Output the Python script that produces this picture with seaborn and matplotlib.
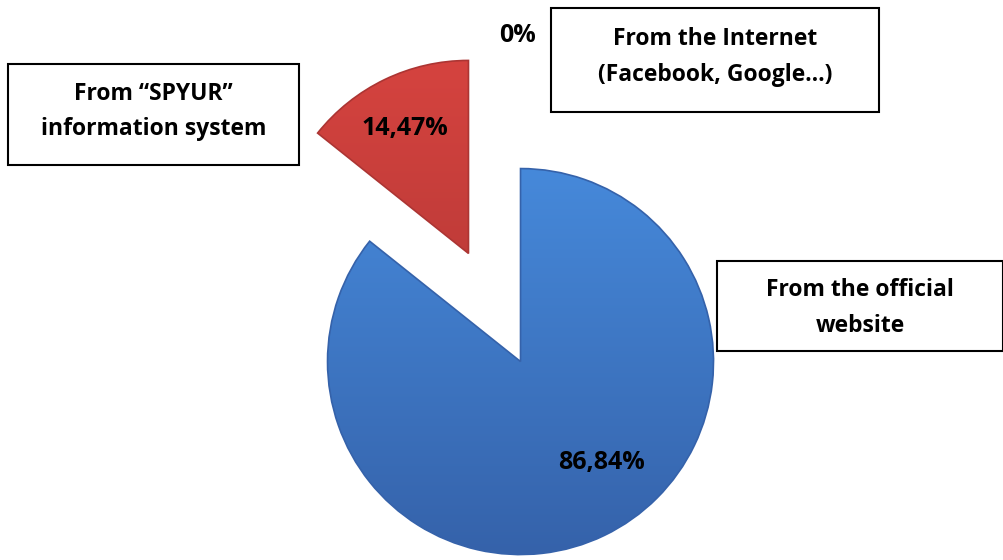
import numpy as np
import matplotlib
matplotlib.use("Agg")
import matplotlib.pyplot as plt
from matplotlib.colors import LinearSegmentedColormap
from matplotlib.patches import Rectangle
import seaborn as sns

# Survey: where respondents learned about the service
categories = ["From the official\nwebsite",
              "From \u201cSPYUR\u201d\ninformation system",
              "From the Internet\n(Facebook, Google\u2026)"]
shares = [86.84, 14.47, 0.0]
value_labels = ["86,84%", "14,47%", "0%"]

sns.set_theme(style="white")
plt.rcParams["font.family"] = ["Open Sans", "DejaVu Sans"]

W, H = 1004, 560
fig = plt.figure(figsize=(W / 100, H / 100), dpi=100)
ax = fig.add_axes([0, 0, 1, 1])

base_colors = sns.color_palette(["#4080D0", "#C83E3C", "#9BBB59"])
top_colors = ["#4689DA", "#D5433F", "#A5C464"]
bottom_colors = ["#3562AA", "#AC3533", "#7E9B45"]

center = (494.5, H - 307.5)
radius = 193
offset = 60
wedges, _ = ax.pie(shares, colors=base_colors, startangle=90, counterclock=False,
                   explode=[offset, offset, 0.0], radius=radius, center=center,
                   wedgeprops=dict(linewidth=0))

# vertical shading inside each wedge
grad = np.linspace(1, 0, 256).reshape(-1, 1)
for w, c_top, c_bot, v in zip(wedges, top_colors, bottom_colors, shares):
    if v <= 0:
        continue
    cmap = LinearSegmentedColormap.from_list("shade", [c_bot, c_top])
    cx, cy = w.center
    x0, x1 = cx - radius, cx + radius
    y0, y1 = cy - radius, cy + radius
    im = ax.imshow(grad, extent=[x0, x1, y0, y1], cmap=cmap, aspect="auto",
                   origin="upper", zorder=w.get_zorder() + 0.1, interpolation="bilinear")
    im.set_clip_path(w)
    w.set_edgecolor(c_bot)
    w.set_linewidth(1.2)
    w.set_zorder(w.get_zorder() + 0.2)
    w.set_facecolor("none")

# value labels on the slices
label_pos = [(602, 462), (405, 128), (518, 35)]
for txt, (x, y) in zip(value_labels, label_pos):
    ax.text(x, H - y, txt, ha="center", va="center", fontsize=18,
            fontweight="bold", color="black", zorder=5)

# category boxes (left, top, right, bottom in pixels) and text nudge
boxes = [(717, 261, 1003, 351), (8, 64, 299, 165), (551, 8, 879, 112)]
nudges = [-2, 3, 3]
for name, (bx0, by0, bx1, by1), dy in zip(categories, boxes, nudges):
    ax.add_patch(Rectangle((bx0, H - by1), bx1 - bx0, by1 - by0, facecolor="white",
                           edgecolor="black", linewidth=1.5, zorder=4))
    ax.text((bx0 + bx1) / 2, H - (by0 + by1) / 2 + dy, name, ha="center", va="center",
            fontsize=16.5, fontweight="bold", color="black", linespacing=1.65, zorder=5)

ax.set_xlim(0, W)
ax.set_ylim(0, H)
ax.set_aspect("equal")
ax.axis("off")

fig.savefig("out.png", dpi=100, facecolor="white")
